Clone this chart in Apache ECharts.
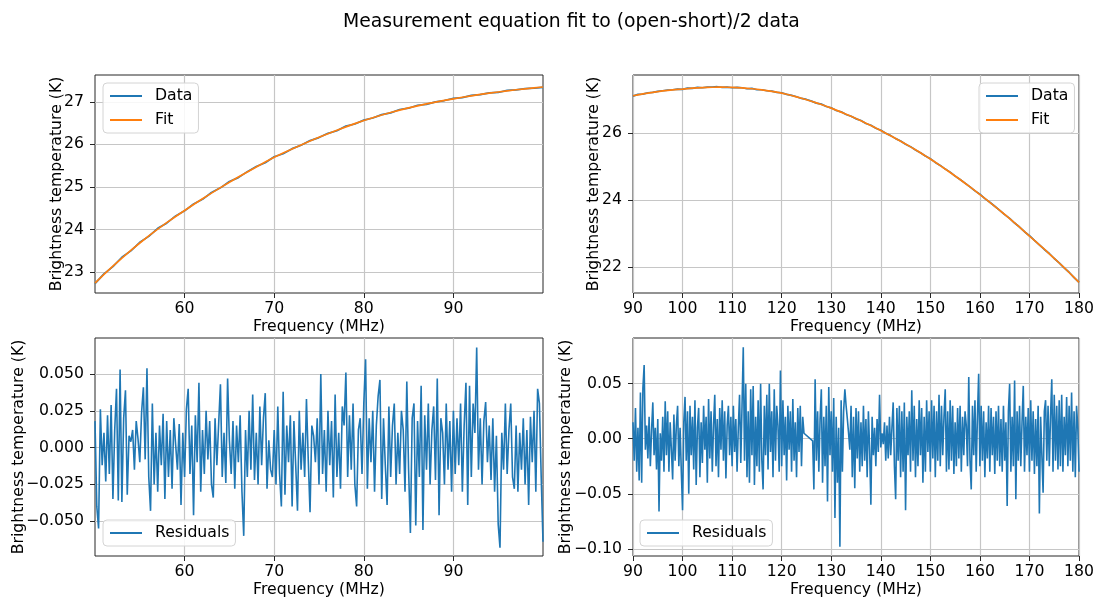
<!DOCTYPE html>
<html><head><meta charset="utf-8">
<script src="https://cdn.jsdelivr.net/npm/echarts@6/dist/echarts.min.js"></script>
<style>html,body{margin:0;padding:0;background:#fff}#c{width:1097px;height:601px}</style>
</head><body><div id="c"></div><script>
const titleText = 'Measurement equation fit to (open-short)/2 data';
const xName = 'Frequency (MHz)';
const yName = 'Brightness temperature (K)';

// Top-left: 50..100 MHz, 1 MHz step
const tlFreqStart = 50, tlFreqStep = 1;
const tlData = [22.73,22.96,23.13,23.35,23.50,23.70,23.84,24.03,24.15,24.32,
  24.44,24.60,24.71,24.87,24.98,25.13,25.22,25.36,25.48,25.57,
  25.71,25.78,25.90,25.98,26.09,26.16,26.26,26.32,26.43,26.48,
  26.57,26.62,26.70,26.74,26.82,26.85,26.92,26.94,27.00,27.03,
  27.08,27.10,27.15,27.17,27.21,27.22,27.27,27.28,27.31,27.32,27.34];
const tlFit = [22.740,22.945,23.142,23.331,23.512,23.685,23.851,24.010,24.162,24.308,
  24.448,24.588,24.724,24.856,24.985,25.111,25.234,25.354,25.471,25.585,
  25.696,25.796,25.893,25.987,26.078,26.166,26.251,26.333,26.412,26.488,
  26.561,26.627,26.690,26.749,26.805,26.857,26.906,26.951,26.993,27.033,
  27.071,27.107,27.141,27.173,27.203,27.231,27.258,27.283,27.306,27.328,27.348];

// Top-right: 90..180 MHz, 1 MHz step
const trFreqStart = 90, trFreqStep = 1;
const trData = [27.10,27.15,27.16,27.20,27.21,27.24,27.26,27.28,27.29,27.31,
  27.30,27.34,27.33,27.36,27.35,27.37,27.37,27.38,27.36,27.37,
  27.35,27.36,27.35,27.32,27.33,27.29,27.29,27.26,27.25,27.21,
  27.20,27.15,27.12,27.08,27.03,27.00,26.95,26.89,26.86,26.79,
  26.75,26.67,26.63,26.55,26.50,26.42,26.37,26.28,26.23,26.14,
  26.08,25.99,25.92,25.83,25.76,25.66,25.59,25.49,25.41,25.31,
  25.23,25.12,25.03,24.92,24.83,24.71,24.61,24.50,24.39,24.27,
  24.17,24.04,23.93,23.81,23.69,23.56,23.45,23.31,23.19,23.05,
  22.93,22.79,22.66,22.52,22.40,22.25,22.12,21.97,21.84,21.68,21.54];
const trFit = [27.110,27.138,27.164,27.189,27.212,27.234,27.254,27.272,27.288,27.300,
  27.310,27.324,27.336,27.346,27.354,27.360,27.364,27.366,27.366,27.364,
  27.360,27.353,27.344,27.333,27.320,27.304,27.286,27.265,27.242,27.217,
  27.190,27.155,27.117,27.077,27.035,26.991,26.945,26.897,26.847,26.795,
  26.740,26.682,26.622,26.560,26.496,26.430,26.362,26.292,26.220,26.146,
  26.070,25.994,25.916,25.836,25.754,25.670,25.584,25.496,25.406,25.314,
  25.220,25.123,25.024,24.923,24.820,24.715,24.608,24.499,24.388,24.275,
  24.160,24.045,23.928,23.809,23.688,23.565,23.440,23.313,23.184,23.053,
  22.920,22.791,22.660,22.527,22.392,22.255,22.116,21.975,21.832,21.687,21.540];

// Bottom-left residuals: 50..100 MHz, 0.2 MHz step
const blResStart = 50, blResStep = 0.2;
const blResiduals = [
  0.018,-0.040,-0.055,0.026,-0.012,0.010,-0.023,0.022,-0.018,0.029,
  -0.035,0.012,0.040,-0.036,0.053,-0.037,0.020,0.039,-0.032,0.008,
  0.004,0.012,-0.015,0.018,0.006,-0.010,0.024,0.041,-0.008,0.054,
  -0.020,-0.043,0.030,-0.025,0.010,-0.030,0.015,-0.012,0.023,-0.035,
  0.018,-0.020,0.012,-0.028,0.020,0.002,-0.015,0.016,-0.039,0.010,
  -0.020,0.026,0.040,-0.018,0.015,-0.046,0.022,-0.010,0.044,-0.030,
  0.012,-0.018,0.025,-0.008,0.018,-0.025,-0.034,0.020,-0.012,0.016,
  0.043,-0.020,0.010,-0.024,0.047,0.005,-0.018,0.018,-0.028,0.015,
  -0.010,0.022,-0.030,-0.060,0.012,-0.020,0.025,-0.015,0.036,-0.022,
  0.010,-0.025,0.028,-0.012,0.020,0.037,-0.028,0.005,-0.015,-0.020,
  0.012,-0.025,0.028,-0.018,-0.040,0.038,-0.032,0.015,-0.010,0.022,
  -0.040,0.018,-0.012,-0.043,0.025,-0.015,0.010,-0.020,0.033,-0.008,
  -0.044,0.015,0.008,-0.010,0.020,-0.025,0.050,-0.018,0.012,-0.030,
  0.025,-0.012,0.018,-0.034,0.036,-0.020,0.010,-0.028,0.028,0.015,
  0.051,-0.020,0.022,-0.015,0.030,-0.025,-0.040,0.012,0.020,-0.018,
  0.030,0.060,-0.028,0.020,-0.010,0.025,-0.030,0.015,0.035,0.046,
  -0.035,0.020,-0.012,-0.039,0.028,-0.020,0.015,0.030,-0.025,0.010,
  -0.018,0.025,0.012,-0.030,0.045,-0.015,-0.058,0.020,0.030,-0.053,
  0.018,-0.020,0.042,-0.056,0.022,-0.015,0.030,-0.025,0.012,0.028,
  -0.022,0.047,-0.046,0.020,0.010,-0.025,0.030,-0.015,0.018,-0.030,
  0.025,-0.018,0.020,-0.012,0.030,-0.030,0.015,0.044,-0.039,0.042,
  -0.020,0.030,0.010,0.068,-0.015,0.020,-0.025,0.018,0.031,-0.010,
  0.015,-0.022,0.020,-0.030,0.008,-0.052,-0.068,0.010,-0.015,0.030,
  -0.018,0.012,0.030,-0.020,-0.028,0.015,-0.030,0.010,-0.015,0.020,
  -0.025,0.012,-0.039,0.021,-0.010,0.025,-0.030,0.040,0.030,-0.020,
  -0.064];

// Bottom-right residuals: 90..180 MHz, 0.25 MHz step (null = no data, bridged)
const brResStart = 90, brResStep = 0.25;
const brResiduals = [
  0.015,-0.020,0.028,-0.030,0.010,-0.038,0.042,-0.040,
  0.046,0.067,-0.010,0.012,-0.018,0.020,-0.025,0.008,
  0.033,-0.015,0.010,-0.028,0.018,-0.066,0.005,-0.020,
  0.020,-0.030,0.034,-0.015,0.025,-0.030,0.015,-0.010,
  -0.037,0.022,-0.020,0.012,0.030,-0.025,0.010,-0.030,
  -0.065,0.015,0.038,-0.020,0.025,-0.050,0.030,-0.015,
  0.020,-0.028,0.035,-0.042,0.010,0.028,-0.035,0.015,
  -0.022,0.030,-0.010,0.020,-0.040,0.036,-0.018,0.025,
  -0.030,0.012,0.040,-0.025,0.018,-0.035,0.028,-0.010,
  0.035,-0.020,0.025,-0.036,0.012,0.030,-0.015,0.020,
  -0.025,0.030,-0.012,0.018,-0.030,0.010,0.040,-0.022,
  0.030,0.083,-0.020,0.050,-0.035,0.025,-0.040,0.045,
  -0.015,0.048,-0.042,0.020,-0.025,0.035,-0.030,0.050,
  -0.020,-0.046,0.030,-0.015,0.040,-0.028,0.050,-0.012,
  0.025,-0.035,0.045,-0.020,0.030,0.012,-0.030,0.062,
  -0.025,0.035,-0.015,0.020,-0.038,0.030,-0.010,0.025,
  -0.030,0.036,-0.020,0.015,-0.035,0.028,-0.012,0.030,
  -0.025,0.020,0.005,null,null,null,null,null,
  null,-0.002,-0.046,0.054,-0.020,0.025,-0.030,0.018,
  0.045,-0.040,0.020,-0.025,0.030,-0.057,0.047,-0.015,
  0.025,-0.030,0.037,-0.072,0.020,-0.040,0.010,-0.098,
  0.035,-0.030,0.025,0.045,0.030,0.018,0.005,-0.010,
  0.030,-0.035,0.020,-0.045,0.028,-0.018,0.025,-0.030,
  0.015,-0.025,0.030,-0.020,0.018,-0.035,0.025,-0.010,
  -0.060,0.020,-0.015,0.010,-0.025,0.018,-0.012,0.040,
  -0.008,0.005,-0.005,0.015,-0.020,0.012,-0.018,0.020,
  -0.015,0.010,0.033,-0.025,-0.055,0.028,-0.020,0.030,
  -0.035,0.025,-0.030,0.033,-0.065,0.020,-0.015,0.025,
  -0.030,0.044,-0.020,0.030,-0.035,0.018,-0.025,0.035,
  -0.015,0.028,-0.040,0.020,-0.030,0.035,-0.012,0.025,
  -0.030,0.035,-0.018,0.030,-0.035,0.025,-0.020,0.040,
  -0.025,0.030,-0.015,0.020,0.045,-0.030,0.025,-0.028,
  0.035,-0.020,0.030,-0.032,0.015,-0.025,0.028,-0.018,
  0.030,-0.030,0.020,-0.015,0.025,0.012,-0.025,0.056,
  -0.020,-0.046,0.030,-0.015,0.035,-0.030,0.020,0.059,
  -0.025,0.030,-0.020,0.025,-0.035,0.015,-0.018,0.030,
  -0.030,0.028,-0.015,0.020,-0.032,0.025,-0.020,0.030,
  -0.025,0.018,-0.030,0.030,-0.020,0.015,-0.061,0.025,
  0.050,-0.030,0.020,-0.025,0.053,-0.055,0.025,-0.020,
  0.030,-0.025,0.015,0.048,-0.030,0.020,-0.015,0.028,
  -0.030,0.035,-0.020,0.025,-0.032,0.018,-0.025,0.030,
  -0.068,0.020,-0.015,-0.049,0.025,0.035,-0.020,0.030,
  -0.025,0.020,0.054,-0.030,0.040,-0.020,0.030,-0.028,
  0.035,-0.025,0.040,-0.030,0.020,-0.015,0.038,-0.025,
  0.030,-0.020,0.042,-0.030,0.025,-0.035,0.030,0.010,
  -0.030];

// Tick labels
const tlXTicks = [60,70,80,90];
const tlYTicks = [23,24,25,26,27];
const trXTicks = [90,100,110,120,130,140,150,160,170,180];
const trYTicks = [22,24,26];
const blXTicks = [60,70,80,90];
const blYTicks = [-0.05,-0.025,0,0.025,0.05];
const brXTicks = [90,100,110,120,130,140,150,160,170,180];
const brYTicks = [-0.10,-0.05,0,0.05];

// Axis ranges
const tlXRange = [50, 100], tlYRange = [22.51, 27.63];
const trXRange = [90, 180], trYRange = [21.22, 27.73];
const blXRange = [50, 100], blYRange = [-0.0737, 0.0745];
const brXRange = [90, 180], brYRange = [-0.1065, 0.0915];

const FONT = 'DejaVu Sans';
const FS = 15.7;
const C_DATA = '#1f77b4', C_FIT = '#ff7f0e';

function pairs(start, step, arr) {
  return arr.map((v, i) => [+(start + i * step).toFixed(4), v]);
}
function fmtDec(d) {
  return v => (v < 0 ? '\u2212' : '') + Math.abs(v).toFixed(d);
}
function xAxis(gi, range, ticks) {
  return {
    type: 'value', gridIndex: gi, min: range[0], max: range[1],
    name: xName, nameLocation: 'middle', nameGap: 26, nameMoveOverlap: false,
    nameTextStyle: {fontFamily: FONT, fontSize: FS, color: '#000'},
    axisLine: {show: false, onZero: false},
    axisTick: {show: true, length: 5, customValues: ticks, lineStyle: {color: '#262626', width: 1}},
    axisLabel: {customValues: ticks, margin: 8, fontFamily: FONT, fontSize: FS, color: '#000',
      formatter: v => String(v)},
    splitLine: {show: true, lineStyle: {color: '#c6c6c6', width: 1.2}}
  };
}
function yAxis(gi, range, ticks, gap, fmt) {
  return {
    type: 'value', gridIndex: gi, min: range[0], max: range[1],
    name: yName, nameLocation: 'middle', nameRotate: 90, nameGap: gap, nameMoveOverlap: false,
    nameTextStyle: {fontFamily: FONT, fontSize: FS, color: '#000'},
    axisLine: {show: false, onZero: false},
    axisTick: {show: true, length: 5, customValues: ticks, lineStyle: {color: '#262626', width: 1}},
    axisLabel: {customValues: ticks, margin: 11, fontFamily: FONT, fontSize: FS, color: '#000',
      formatter: fmt},
    splitLine: {show: true, lineStyle: {color: '#c6c6c6', width: 1.2}}
  };
}
function legend(left, top, names) {
  return {
    data: names, left: left, top: top, orient: 'vertical',
    icon: 'rect', itemWidth: 32, itemHeight: 2, itemGap: 6,
    padding: [4, 6, 4, 7],
    backgroundColor: 'rgba(255,255,255,0.85)', borderColor: '#d4d4d4', borderWidth: 1, borderRadius: 4,
    textStyle: {fontFamily: FONT, fontSize: FS, color: '#000', lineHeight: 18, padding: [0, 0, 0, 8]},
    selectedMode: false
  };
}
function line(name, xi, data, color, width) {
  return {
    type: 'line', name: name, xAxisIndex: xi, yAxisIndex: xi, data: data,
    symbol: 'none', showSymbol: false, connectNulls: true, animation: false,
    lineStyle: {color: color, width: width}, itemStyle: {color: color}
  };
}

const gridStyle = {show: true, borderColor: '#262626', borderWidth: 1, backgroundColor: '#fff'};
const option = {
  animation: false,
  backgroundColor: '#fff',
  textStyle: {fontFamily: FONT},
  graphic: [{
    type: 'text', left: 343, top: 13,
    style: {text: titleText, font: '18.8px "DejaVu Sans"', fill: '#000'}
  }],
  grid: [
    Object.assign({left: 95, top: 75, width: 448, height: 218}, gridStyle),
    Object.assign({left: 633, top: 75, width: 447, height: 218}, gridStyle),
    Object.assign({left: 95, top: 338, width: 448, height: 218}, gridStyle),
    Object.assign({left: 633, top: 338, width: 447, height: 218}, gridStyle)
  ],
  xAxis: [
    xAxis(0, tlXRange, tlXTicks),
    xAxis(1, trXRange, trXTicks),
    xAxis(2, blXRange, blXTicks),
    xAxis(3, brXRange, brXTicks)
  ],
  yAxis: [
    yAxis(0, tlYRange, tlYTicks, 30, v => String(v)),
    yAxis(1, trYRange, trYTicks, 31, v => String(v)),
    yAxis(2, blYRange, blYTicks, 68, fmtDec(3)),
    yAxis(3, brYRange, brYTicks, 59, fmtDec(2))
  ],
  legend: [
    legend(103, 83, ['Data', 'Fit']),
    legend(979, 83, ['Data', 'Fit']),
    legend(103, 520, ['Residuals']),
    legend(640, 520, ['Residuals'])
  ],
  series: [
    line('Data', 0, pairs(tlFreqStart, tlFreqStep, tlData), C_DATA, 1.7),
    line('Fit', 0, pairs(tlFreqStart, tlFreqStep, tlFit), C_FIT, 1.7),
    line('Data', 1, pairs(trFreqStart, trFreqStep, trData), C_DATA, 1.7),
    line('Fit', 1, pairs(trFreqStart, trFreqStep, trFit), C_FIT, 1.7),
    line('Residuals', 2, pairs(blResStart, blResStep, blResiduals), C_DATA, 1.6),
    line('Residuals', 3, pairs(brResStart, brResStep, brResiduals), C_DATA, 1.6)
  ]
};
const chart = echarts.init(document.getElementById('c'), null, {renderer: 'canvas'});
chart.setOption(option);
</script></body></html>
